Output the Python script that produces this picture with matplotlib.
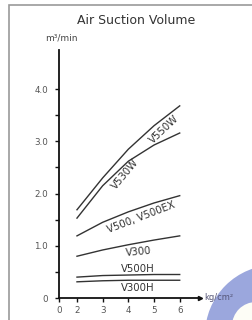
import matplotlib
matplotlib.use("Agg")
import matplotlib.pyplot as plt
from matplotlib.patches import Ellipse, Rectangle

pressure = [2, 3, 4, 5, 6]
series = {
    "V550W": [1.69, 2.30, 2.85, 3.30, 3.68],
    "V530W": [1.53, 2.15, 2.62, 2.93, 3.16],
    "V500, V500EX": [1.19, 1.45, 1.65, 1.82, 1.96],
    "V300": [0.80, 0.92, 1.02, 1.11, 1.19],
    "V500H": [0.40, 0.43, 0.44, 0.45, 0.45],
    "V300H": [0.31, 0.33, 0.34, 0.34, 0.34],
}
label_pos = {
    "V550W": (5.4, 3.22, 43),
    "V530W": (3.87, 2.38, 50),
    "V500, V500EX": (4.49, 1.54, 21),
    "V300": (4.4, 0.88, 5),
    "V500H": (4.35, 0.55, 0),
    "V300H": (4.35, 0.20, 0),
}
xtick_vals = [1.3, 2, 3, 4, 5, 6]
xtick_labels = ["0", "2", "3", "4", "5", "6"]
ytick_vals = [0, 1, 2, 3, 4]
ytick_labels = ["0", "1.0", "2.0", "3.0", "4.0"]

W, H = 252, 320
fig = plt.figure(figsize=(2.52, 3.2), dpi=100)
fig.patch.set_facecolor("white")

# logo circle (bottom-right)
fig.patches.append(Ellipse((275/W, 1-335/H), 2*70/W, 2*70/H, transform=fig.transFigure,
                           facecolor="#9ba7dd", edgecolor="none", zorder=0))
fig.patches.append(Ellipse((256/W, 1-326/H), 2*24/W, 2*24/H, transform=fig.transFigure,
                           facecolor="#fdfdf6", edgecolor="none", zorder=0))
# frame
fig.patches.append(Rectangle((9/W, -0.05), 1.2, 1-5/H+0.05, transform=fig.transFigure,
                             facecolor="none", edgecolor="#9a9a9a", lw=1.2, zorder=1))

ax = fig.add_axes([59/W, 22/H, 141/W, 248/H])
ax.set_zorder(3)
ax.set_facecolor("none")
for name, vals in series.items():
    ax.plot(pressure, vals, color="#333333", lw=1.0)
    x, y, r = label_pos[name]
    ax.text(x, y, name, rotation=r, ha="center", va="center", fontsize=7.3,
            color="#333333", rotation_mode="anchor")

ax.set_xlim(1.3, 6.79)
ax.set_ylim(0, 4.75)
ax.spines["top"].set_visible(False)
ax.spines["right"].set_visible(False)
for s in ("left", "bottom"):
    ax.spines[s].set_linewidth(1.3)
    ax.spines[s].set_color("#111111")
ax.set_xticks(xtick_vals)
ax.set_xticklabels(xtick_labels)
ax.set_yticks(ytick_vals)
ax.set_yticklabels(ytick_labels)
ax.set_yticks([0.5, 1.5, 2.5, 3.5], minor=True)
ax.tick_params(axis="both", which="both", direction="out", length=3, width=1,
               labelsize=6.3, colors="#111111", labelcolor="#555555", pad=2)
ax.tick_params(axis="y", which="major", pad=5)
ax.tick_params(axis="x", which="major", pad=3)
ax.plot([1], [0], marker=">", ms=3, color="#111111", transform=ax.transAxes, clip_on=False)
ax.text(1.03, 0, "kg/cm²", transform=ax.transAxes, fontsize=6, color="#555577",
        ha="left", va="center")
ax.text(0.02, 1.03, "m³/min", transform=ax.transAxes, fontsize=6.5, color="#444444",
        ha="center", va="bottom")

fig.text(136/W, 1-20/H, "Air Suction Volume", ha="center", va="center",
         fontsize=9, color="#333333")

fig.savefig("out.png", dpi=100)
